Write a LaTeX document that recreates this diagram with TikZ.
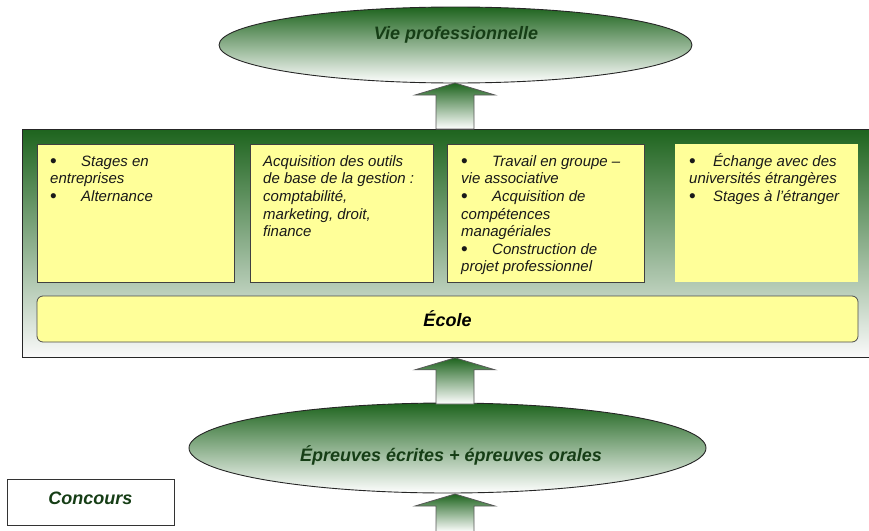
\documentclass[tikz,border=0pt]{standalone}
\usepackage{fontspec}
\setmainfont{Liberation Sans}
\usetikzlibrary{shapes.geometric,calc}
\definecolor{gtop}{RGB}{30,100,30}
\definecolor{ylw}{RGB}{255,255,153}
\definecolor{tgreen}{RGB}{22,62,22}
\newcommand{\bul}[1]{\makebox[#1][l]{\raisebox{-1.3pt}{\fontsize{19}{19}\selectfont\upshape •}}}
\newcommand{\upblock}[2]{%
  \draw[blockarrow] (#1) -- ($(#1)+(40,12)$) -- ($(#1)+(19,12)$) -- ($(#2)+(19,0)$)
    -- ($(#2)+(-19,0)$) -- ($(#1)+(-19,12)$) -- ($(#1)+(-40,12)$) -- cycle;}
\tikzset{
  ell/.style={ellipse, draw=black!85, line width=0.9pt, inner sep=0pt,
    top color=gtop, bottom color=white},
  title/.style={font=\fontsize{18}{20}\selectfont\bfseries\itshape, text=tgreen, inner sep=0pt},
  frame/.style={draw=black!85, line width=0.8pt, top color=gtop, bottom color=white!96!gray},
  ybox/.style={draw=black!75, line width=0.7pt, fill=ylw, anchor=north west, inner sep=0pt,
    minimum height=138pt},
  nbox/.style={fill=ylw, anchor=north west, inner sep=0pt, minimum height=138pt},
  btext/.style={anchor=north west, inner sep=0pt, align=left,
    font=\fontsize{15}{17.6}\selectfont\itshape, text=black!90},
  ecolebox/.style={draw=black!70, line width=0.8pt, fill=ylw, rounded corners=6pt,
    minimum width=821pt, minimum height=46pt, inner sep=0pt,
    font=\fontsize{18}{20}\selectfont\bfseries\itshape},
  concbox/.style={draw=black!80, line width=0.8pt, fill=white, minimum width=167pt,
    minimum height=46pt, inner sep=0pt, text height=13pt, text depth=9pt,
    font=\fontsize{18}{20}\selectfont\bfseries\itshape, text=tgreen},
  blockarrow/.style={draw=black!65, line width=0.8pt, top color=gtop, bottom color=white, line join=miter}
}
\begin{document}
\begin{tikzpicture}[x=1pt,y=-1pt]
\useasboundingbox (0,0) rectangle (869,530);
% main frame
\node[frame, anchor=north west, minimum width=860pt, minimum height=228pt, inner sep=0pt] (school) at (22,129) {};
% yellow boxes
\node[ybox, minimum width=197pt] (b1) at (37,144) {};
\node[ybox, minimum width=183pt] (b2) at (250,144) {};
\node[ybox, minimum width=197pt] (b3) at (447,144) {};
\node[nbox, minimum width=183pt] (b4) at (675,144) {};
\node[btext] (t1) at ($(b1.north west)+(13,8)$) {\rule{0pt}{14pt}\bul{31pt}Stages en\\entreprises\\\bul{31pt}Alternance};
\node[btext] (t2) at ($(b2.north west)+(13,8)$) {\rule{0pt}{14pt}Acquisition des outils\\de base de la gestion :\\comptabilité,\\marketing, droit,\\finance};
\node[btext] (t3) at ($(b3.north west)+(14,8)$) {\rule{0pt}{14pt}\bul{31pt}Travail en groupe –\\vie associative\\\bul{31pt}Acquisition de\\compétences\\managériales\\\bul{31pt}Construction de\\projet professionnel};
\node[btext] (t4) at ($(b4.north west)+(14,8)$) {\rule{0pt}{14pt}\bul{24pt}Échange avec des\\universités étrangères\\\bul{24pt}Stages à l’étranger};
% Ecole
\node[ecolebox] (ecole) at (447.5,319) {École};
% ellipses
\node[ell, minimum width=473pt, minimum height=76pt] (vie) at (455.5,45) {};
\node[title] (vietxt) at (456,35) {Vie professionnelle};
\node[ell, minimum width=517pt, minimum height=90pt] (epr) at (447.5,448) {};
\node[title] (eprtxt) at (451,455) {Épreuves écrites + épreuves orales};
% concours
\node[concbox] (conc) at (90.5,502) {Concours};
% arrows
\coordinate (a1t) at (455,83);
\coordinate (a1b) at (a1t |- school.north);
\upblock{a1t}{a1b}
\coordinate (a2t) at (a1t |- school.south);
\coordinate (a2b) at (455,404);
\upblock{a2t}{a2b}
\coordinate (a3t) at (455,494);
\coordinate (a3b) at (455,532);
\upblock{a3t}{a3b}
\end{tikzpicture}
\end{document}
